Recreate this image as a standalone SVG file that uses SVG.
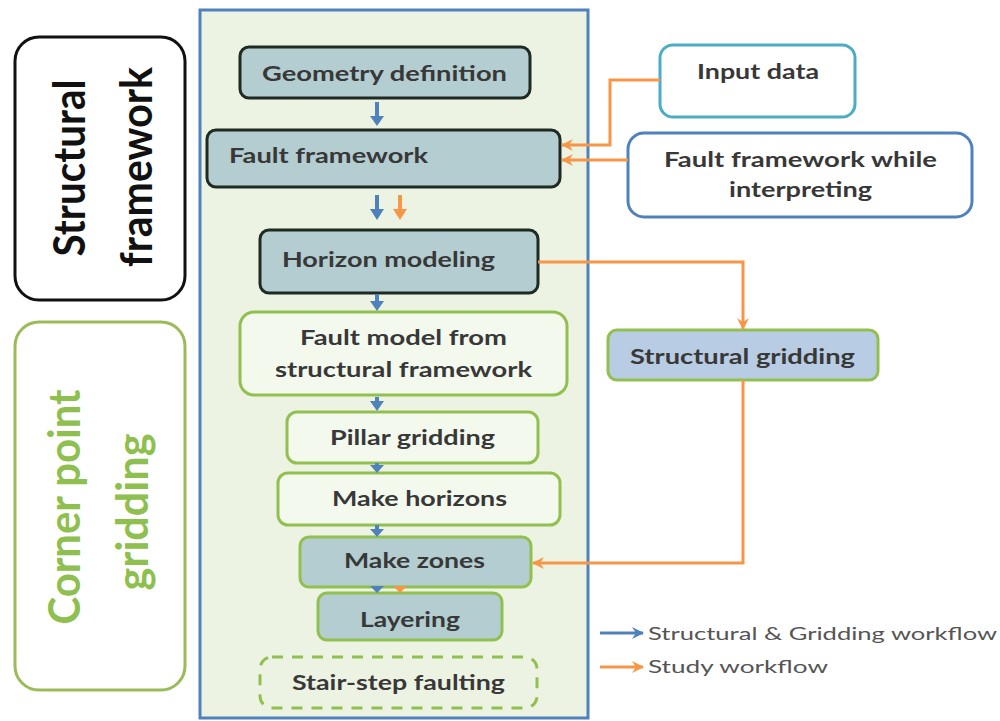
<svg xmlns="http://www.w3.org/2000/svg" width="1000" height="721" viewBox="0 0 1000 721">
<defs>
<marker id="oh" viewBox="0 0 12 12" refX="11" refY="6" markerWidth="12" markerHeight="12" markerUnits="userSpaceOnUse" orient="auto">
<path d="M0,0 L12,6 L0,12 L4,6 z" fill="#f79646"/>
</marker>
<marker id="bh" viewBox="0 0 12 12" refX="11" refY="6" markerWidth="12" markerHeight="12" markerUnits="userSpaceOnUse" orient="auto">
<path d="M0,0 L12,6 L0,12 L4,6 z" fill="#4f81bd"/>
</marker>
</defs>
<style>
.t{font-family:Lato,"Liberation Sans",sans-serif;font-weight:bold;fill:#383838;font-size:21px}
.big{font-family:Lato,"Liberation Sans",sans-serif;font-weight:bold;font-size:44px}
.leg{font-family:Lato,"Liberation Sans",sans-serif;font-size:18px;fill:#555}
.dark{fill:#b3cdd0;stroke:#1f2b22;stroke-width:3}
.gn{fill:#f4f9ee;stroke:#92c050;stroke-width:3}
.gb{fill:#b3cdd0;stroke:#92c050;stroke-width:3}
.or{fill:none;stroke:#f79646;stroke-width:3}
.bl{fill:none;stroke:#4f81bd;stroke-width:3}
.ba{fill:#4f81bd}
.oa{fill:#f79646}
</style>
<rect width="1000" height="721" fill="#ffffff"/>

<g id="label-structural">
<rect x="15" y="37" width="170" height="263" rx="24" fill="#fff" stroke="#111" stroke-width="3"/>
<text class="big" fill="#111" text-anchor="middle" transform="translate(85,168) rotate(-90)" textLength="177" lengthAdjust="spacingAndGlyphs">Structural</text>
<text class="big" fill="#111" text-anchor="middle" transform="translate(152,167) rotate(-90)" textLength="200" lengthAdjust="spacingAndGlyphs">framework</text>
</g>
<g id="label-corner">
<rect x="15" y="322" width="170" height="368" rx="24" fill="#fff" stroke="#9bbb59" stroke-width="3"/>
<text class="big" fill="#8ebf4f" text-anchor="middle" transform="translate(80,507) rotate(-90)" textLength="235" lengthAdjust="spacingAndGlyphs">Corner point</text>
<text class="big" fill="#8ebf4f" text-anchor="middle" transform="translate(148,512) rotate(-90)" textLength="157" lengthAdjust="spacingAndGlyphs">gridding</text>
</g>

<g id="container">
<rect x="200" y="10" width="388" height="708" fill="#edf3e2" stroke="#4f81bd" stroke-width="3"/>
</g>

<g id="geometry">
<rect class="dark" x="240" y="47" width="290" height="51" rx="9"/>
<text class="t" x="262" y="81" textLength="245" lengthAdjust="spacingAndGlyphs">Geometry definition</text>
</g>
<g id="fault-framework">
<rect class="dark" x="207" y="130" width="353" height="57" rx="9"/>
<text class="t" x="229" y="163" textLength="199" lengthAdjust="spacingAndGlyphs">Fault framework</text>
</g>
<g id="horizon-modeling">
<rect class="dark" x="260" y="230" width="278" height="63" rx="9"/>
<text class="t" x="282" y="267" textLength="213" lengthAdjust="spacingAndGlyphs">Horizon modeling</text>
</g>
<g id="fault-model">
<rect class="gn" x="240" y="312" width="327" height="83" rx="14"/>
<text class="t" x="300" y="345" textLength="207" lengthAdjust="spacingAndGlyphs">Fault model from</text>
<text class="t" x="275" y="377" textLength="257" lengthAdjust="spacingAndGlyphs">structural framework</text>
</g>
<g id="pillar-gridding">
<rect class="gn" x="287" y="412" width="251" height="51" rx="10"/>
<text class="t" x="330" y="445" textLength="165" lengthAdjust="spacingAndGlyphs">Pillar gridding</text>
</g>
<g id="make-horizons">
<rect class="gn" x="278" y="473" width="282" height="52" rx="10"/>
<text class="t" x="332" y="506" textLength="175" lengthAdjust="spacingAndGlyphs">Make horizons</text>
</g>
<g id="make-zones">
<rect class="gb" x="300" y="537" width="231" height="50" rx="9"/>
<text class="t" x="344" y="568" textLength="141" lengthAdjust="spacingAndGlyphs">Make zones</text>
</g>
<g id="layering">
<rect class="gb" x="318" y="593" width="184" height="47" rx="9"/>
<text class="t" x="360" y="627" textLength="100" lengthAdjust="spacingAndGlyphs">Layering</text>
</g>
<g id="stair-step">
<rect x="260" y="657" width="277" height="51" rx="12" fill="none" stroke="#92c050" stroke-width="3" stroke-dasharray="11,9"/>
<text class="t" x="292" y="690" textLength="213" lengthAdjust="spacingAndGlyphs">Stair-step faulting</text>
</g>

<g id="input-data">
<rect x="660" y="45" width="195" height="72" rx="13" fill="#fff" stroke="#4bacc6" stroke-width="3"/>
<text class="t" x="697" y="79" textLength="122" lengthAdjust="spacingAndGlyphs">Input data</text>
</g>
<g id="ff-interpreting">
<rect x="628" y="133" width="344" height="84" rx="16" fill="#fff" stroke="#4f81bd" stroke-width="3"/>
<text class="t" x="664" y="167" textLength="273" lengthAdjust="spacingAndGlyphs">Fault framework while</text>
<text class="t" x="729" y="197" textLength="143" lengthAdjust="spacingAndGlyphs">interpreting</text>
</g>
<g id="structural-gridding">
<rect x="608" y="330" width="270" height="50" rx="9" fill="#b8cce4" stroke="#92c050" stroke-width="3"/>
<text class="t" x="630" y="364" textLength="225" lengthAdjust="spacingAndGlyphs">Structural gridding</text>
</g>

<g id="connectors">
<path class="or" d="M660,80 H610 V145 H562" marker-end="url(#oh)"/>
<path class="or" d="M628,160 H562" marker-end="url(#oh)"/>
<path class="or" d="M538,262 H743 V329" marker-end="url(#oh)"/>
<path class="or" d="M743,380 V563 H533" marker-end="url(#oh)"/>
<!-- small vertical arrows -->
<path class="ba" d="M375,102 h4 v14 h5 l-7,10 l-7,-10 h5 z"/>
<path class="ba" d="M375,195 h4 v14 h5 l-7,11 l-7,-11 h5 z"/>
<path class="oa" d="M398,195 h4 v14 h5 l-7,11 l-7,-11 h5 z"/>
<path class="ba" d="M375,294 h4 v7 h5 l-7,10 l-7,-10 h5 z"/>
<path class="ba" d="M375,397 h4 v4 h5 l-7,10 l-7,-10 h5 z"/>
<path class="ba" d="M375,463 h4 v2 h5 l-7,8 l-7,-8 h5 z"/>
<path class="ba" d="M375,525 h4 v4 h5 l-7,8 l-7,-8 h5 z"/>
<path class="ba" d="M375,586 h4 v0 h5 l-7,7 l-7,-7 h5 z"/>
<path class="oa" d="M398,586 h4 v0 h5 l-7,7 l-7,-7 h5 z"/>
</g>

<g id="legend">
<path class="bl" d="M600,633 H643" marker-end="url(#bh)"/>
<text class="leg" x="648" y="640" textLength="349" lengthAdjust="spacingAndGlyphs">Structural &amp; Gridding workflow</text>
<path class="or" d="M600,667 H643" marker-end="url(#oh)"/>
<text class="leg" x="648" y="673" textLength="180" lengthAdjust="spacingAndGlyphs">Study workflow</text>
</g>
</svg>
